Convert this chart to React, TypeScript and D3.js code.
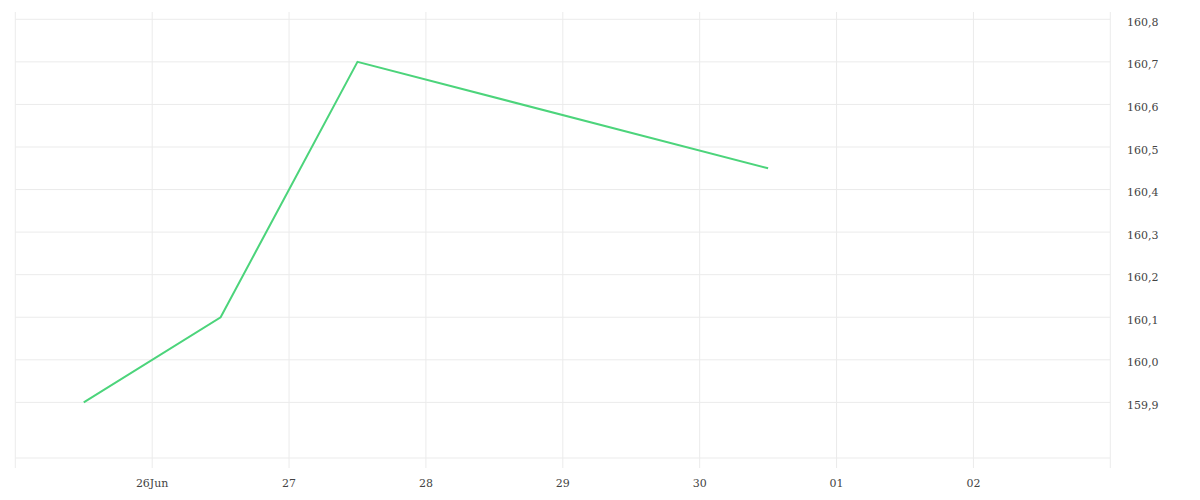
import React from "react";
import * as d3 from "d3";

const dates = ["2024-06-25T12:00", "2024-06-26T12:00", "2024-06-27T12:00", "2024-06-30T12:00"];
const values = [159.9, 160.1, 160.7, 160.45];
const yTicks = [159.9, 160.0, 160.1, 160.2, 160.3, 160.4, 160.5, 160.6, 160.7, 160.8];
const xTickDates = ["2024-06-26", "2024-06-27", "2024-06-28", "2024-06-29", "2024-06-30", "2024-07-01", "2024-07-02"];
const xTickLabels = ["26Jun", "27", "28", "29", "30", "01", "02"];

export default function App() {
  const W = 1200, H = 500;
  const left = 15.3, right = 1110.3, top = 12, bottom = 458;
  const x = d3.scaleTime()
    .domain([new Date("2024-06-25T00:00"), new Date("2024-07-03T00:00")])
    .range([left, right]);
  const y = d3.scaleLinear().domain([159.7693, 160.8]).range([bottom, 19.3]);
  const parse = (s: string) => new Date(s.length === 10 ? s + "T00:00" : s);
  const pts = dates.map((d, i) => [x(parse(d)), y(values[i])] as [number, number]);
  const line = d3.line()(pts) || "";
  const grid = "#ebebeb";
  const fmt = (v: number) => v.toFixed(1).replace(".", ",");
  const font = "'DejaVu Serif', serif";
  return (
    <svg width={W} height={H} style={{ position: "absolute", left: 0, top: 0 }}>
      {yTicks.map((t) => (
        <line key={"g" + t} x1={left} x2={right} y1={y(t)} y2={y(t)} stroke={grid} strokeWidth={1} />
      ))}
      <line x1={left} x2={right} y1={bottom} y2={bottom} stroke={grid} strokeWidth={1} />
      {xTickDates.map((d) => (
        <line key={"v" + d} x1={x(parse(d))} x2={x(parse(d))} y1={top} y2={468} stroke={grid} strokeWidth={1} />
      ))}
      <line x1={left} x2={left} y1={top} y2={468} stroke={grid} strokeWidth={1} />
      <line x1={right} x2={right} y1={top} y2={468} stroke={grid} strokeWidth={1} />
      <path d={line} fill="none" stroke="#4cd47b" strokeWidth={2} />
      {yTicks.map((t) => (
        <text key={"t" + t} x={1127} y={y(t) + 3} dy="0.32em" fontSize={11} fill="#444" fontFamily={font}>
          {fmt(t)}
        </text>
      ))}
      {xTickDates.map((d, i) => (
        <text key={"x" + d} x={x(parse(d))} y={483} dy="0.32em" textAnchor="middle" fontSize={11} fill="#444" fontFamily={font}>
          {xTickLabels[i]}
        </text>
      ))}
    </svg>
  );
}
